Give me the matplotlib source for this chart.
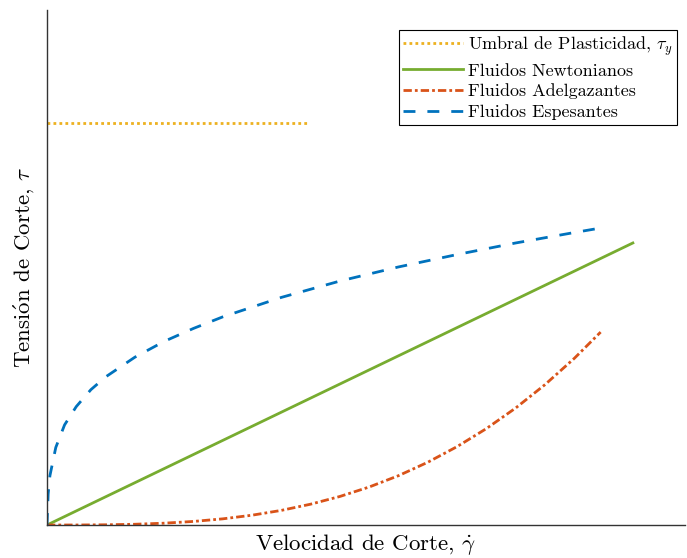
import matplotlib.pyplot as plt
import numpy as np

plt.rcParams['font.family'] = ['cmr10', 'DejaVu Serif']
plt.rcParams['mathtext.fontset'] = 'cm'
plt.rcParams['axes.formatter.use_mathtext'] = True

# shear rate / shear stress (arbitrary units)
x_newton = [0.0, 10.0]
y_newton = [0.0, 10.0]

x_thin = [0.0, 0.5, 1.0, 1.5, 2.0, 2.5, 3.0, 3.5, 4.0, 4.5, 5.0, 5.5, 6.0,
          6.5, 7.0, 7.5, 8.0, 8.5, 9.0, 9.45]
y_thin = [0.0, 0.001, 0.008, 0.027, 0.065, 0.127, 0.219, 0.348, 0.519, 0.739,
          1.013, 1.348, 1.75, 2.226, 2.78, 3.419, 4.149, 4.977, 5.908, 6.84]

x_thick = [0.0, 0.02, 0.05, 0.15, 0.3, 0.5, 0.75, 1.0, 1.5, 2.0, 2.5, 3.0,
           4.0, 5.0, 6.0, 7.0, 8.0, 9.0, 9.45]
y_thick = [0.0, 1.1, 1.75, 2.75, 3.55, 4.2, 4.8, 5.25, 5.95, 6.51, 6.97, 7.38,
           8.07, 8.65, 9.15, 9.59, 10.0, 10.37, 10.53]

x_yield = [0.0, 4.45]
y_yield = [14.26, 14.26]

labels = [r'Umbral de Plasticidad, $\tau_y$', 'Fluidos Newtonianos',
          'Fluidos Adelgazantes', 'Fluidos Espesantes']

fig = plt.figure(figsize=(6.87, 5.58), dpi=100)
ax = fig.add_axes([0.0684, 0.0591, 0.9287, 0.923])

lw = 2.0
ax.plot(x_yield, y_yield, color='#EDB120', lw=lw, dashes=(1.0, 1.15),
        label=labels[0])
ax.plot(x_newton, y_newton, '-', color='#77AC30', lw=lw, label=labels[1])
ax.plot(x_thin, y_thin, color='#D95319', lw=lw,
        dashes=(3.0, 1.1, 1.0, 1.1), label=labels[2])
ax.plot(x_thick, y_thick, color='#0072BD', lw=lw, dashes=(4.3, 4.3),
        label=labels[3])

ax.set_xlim(0, 10.89)
ax.set_ylim(0, 18.26)
ax.set_xticks([])
ax.set_yticks([])
for side in ['top', 'right']:
    ax.spines[side].set_visible(False)
for side in ['left', 'bottom']:
    ax.spines[side].set_color('#333333')
    ax.spines[side].set_linewidth(1.0)

ax.set_xlabel(r'Velocidad de Corte, $\dot{\gamma}$', fontsize=16.5, labelpad=5)
ax.set_ylabel(r'Tensi$\mathrm{\acute{o}}$n de Corte, $\tau$', fontsize=16.5,
              labelpad=8)

leg = ax.legend(loc='upper right', bbox_to_anchor=(0.9875, 0.961),
                borderaxespad=0, fontsize=13, handlelength=3.3,
                handletextpad=0.3, labelspacing=0.28, borderpad=0.25,
                fancybox=False, framealpha=1)
leg.get_frame().set_edgecolor('black')
leg.get_frame().set_linewidth(0.8)

fig.savefig('out.png', dpi=100)
